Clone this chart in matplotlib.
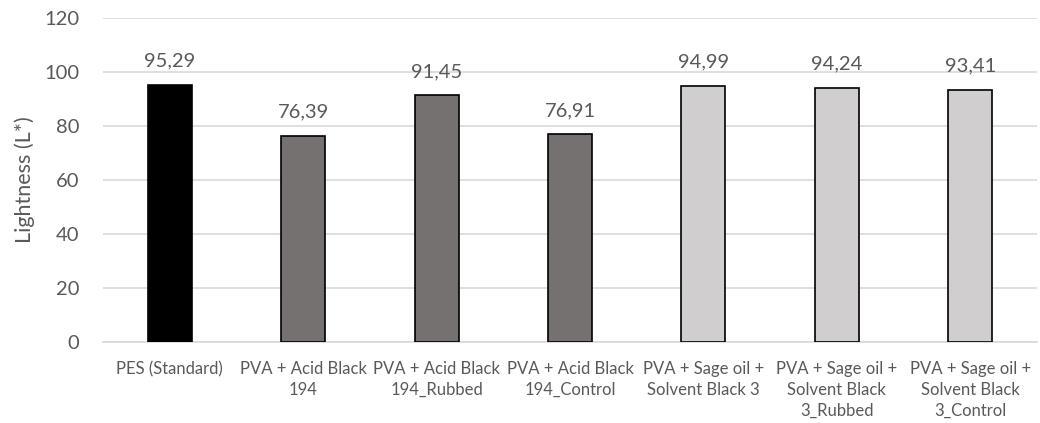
import matplotlib
matplotlib.use("Agg")
import matplotlib.pyplot as plt

categories = [
    "PES (Standard)",
    "PVA + Acid Black\n194",
    "PVA + Acid Black\n194_Rubbed",
    "PVA + Acid Black\n194_Control",
    "PVA + Sage oil +\nSolvent Black 3",
    "PVA + Sage oil +\nSolvent Black\n3_Rubbed",
    "PVA + Sage oil +\nSolvent Black\n3_Control",
]
lightness = [95.29, 76.39, 91.45, 76.91, 94.99, 94.24, 93.41]
value_labels = ["95,29", "76,39", "91,45", "76,91", "94,99", "94,24", "93,41"]
bar_colors = ["#000000", "#767171", "#767171", "#767171", "#d0cece", "#d0cece", "#d0cece"]
yticks = [0, 20, 40, 60, 80, 100, 120]

plt.rcParams["font.family"] = ["Lato", "DejaVu Sans"]
text_color = "#595959"

fig = plt.figure(figsize=(10.4, 4.23), dpi=100)
ax = fig.add_axes([103 / 1040, 1 - 342 / 423, 934 / 1040, 324 / 423])

x = list(range(len(categories)))
bars = ax.bar(x, lightness, width=0.33, color=bar_colors, edgecolor="black",
              linewidth=1.2, zorder=3)

for rect, lab in zip(bars, value_labels):
    ax.annotate(lab, (rect.get_x() + rect.get_width() / 2, rect.get_height()),
                xytext=(0, 13), textcoords="offset points",
                ha="center", va="baseline", fontsize=14.5, color=text_color)

ax.set_xlim(-0.5, len(categories) - 0.5)
ax.set_ylim(0, 120)
ax.set_yticks(yticks)
ax.set_xticks(x)
ax.set_xticklabels(categories, fontsize=12, color=text_color, linespacing=1.35, va="top")
ax.tick_params(axis="y", labelsize=14.5, colors=text_color, length=0, pad=17)
ax.tick_params(axis="x", length=0, pad=14)
ax.yaxis.grid(True, color="#d9d9d9", linewidth=1.2, zorder=0)
ax.set_axisbelow(True)
for side in ["top", "right", "left"]:
    ax.spines[side].set_visible(False)
ax.spines["bottom"].set_color("#d9d9d9")
ax.spines["bottom"].set_linewidth(1.2)
ax.set_ylabel("Lightness (L*)", fontsize=15.5, color=text_color, labelpad=7)

fig.savefig("out.png", dpi=100)
